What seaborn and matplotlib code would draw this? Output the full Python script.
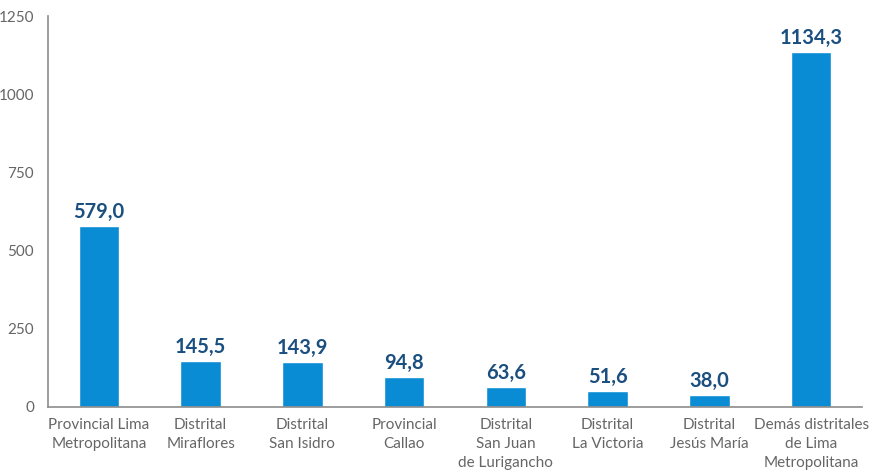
import matplotlib
matplotlib.use("Agg")
import matplotlib.pyplot as plt
import seaborn as sns
import pandas as pd

categories = [
    "Provincial Lima\nMetropolitana",
    "Distrital\nMiraflores",
    "Distrital\nSan Isidro",
    "Provincial\nCallao",
    "Distrital\nSan Juan\nde Lurigancho",
    "Distrital\nLa Victoria",
    "Distrital\nJesús María",
    "Demás distritales\nde Lima\nMetropolitana",
]
values = [579.0, 145.5, 143.9, 94.8, 63.6, 51.6, 38.0, 1134.3]
y_ticks = [0, 250, 500, 750, 1000, 1250]

df = pd.DataFrame({"cat": categories, "val": values})

sns.set_theme(style="white")
plt.rcParams["font.family"] = ["Lato", "DejaVu Sans"]

fig = plt.figure(figsize=(8.78, 4.75), dpi=100)
ax = fig.add_axes([48 / 878, 1 - 407 / 475, (862 - 48) / 878, (407 - 16) / 475])

sns.barplot(data=df, x="cat", y="val", color="#0a8cd4", saturation=1,
            width=0.4, ax=ax)

for i, v in enumerate(values):
    ax.annotate(f"{v:.1f}".replace(".", ","), (i, v), xytext=(0, 3),
                textcoords="offset points", ha="center", va="bottom",
                fontsize=14.5, fontweight="bold", color="#1a4f80")

ax.set_ylim(0, 1250)
ax.set_xlim(-0.5, len(categories) - 0.5)
ax.set_yticks(y_ticks)
ax.set_xlabel("")
ax.set_ylabel("")
ax.tick_params(axis="both", length=0, labelsize=11, labelcolor="#666666")
ax.tick_params(axis="x", pad=8)
ax.tick_params(axis="y", pad=10)
for lbl in ax.get_xticklabels():
    lbl.set_linespacing(1.45)
sns.despine(ax=ax, top=True, right=True)
for s in ("left", "bottom"):
    ax.spines[s].set_color("#8c8c8c")
    ax.spines[s].set_linewidth(1.2)

fig.savefig("out.png", dpi=100)
